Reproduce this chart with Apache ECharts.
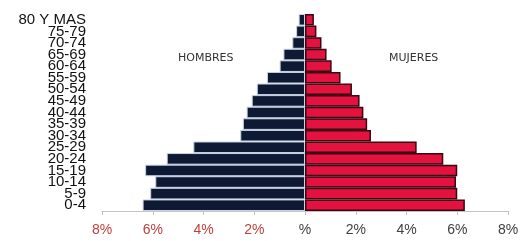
<!DOCTYPE html>
<html>
<head>
<meta charset="utf-8">
<script src="https://cdn.jsdelivr.net/npm/echarts@6/dist/echarts.min.js"></script>
<style>
  html, body { margin: 0; padding: 0; background: #fff; }
  #piramide { width: 525px; height: 241px; }
</style>
</head>
<body>
<div id="piramide"></div>
<script>
// grupos de edad, de abajo hacia arriba
var edades = ['0-4', '5-9', '10-14', '15-19', '20-24', '25-29', '30-34', '35-39', '40-44',
  '45-49', '50-54', '55-59', '60-64', '65-69', '70-74', '75-79', '80 Y MAS'];
// porcentaje de la poblacion
var hombres = [6.4, 6.1, 5.9, 6.3, 5.45, 4.4, 2.55, 2.45, 2.3, 2.1, 1.9, 1.5, 1.0, 0.85, 0.5, 0.35, 0.25];
var mujeres = [6.3, 6.0, 5.95, 6.0, 5.45, 4.4, 2.6, 2.45, 2.3, 2.15, 1.85, 1.4, 1.05, 0.85, 0.65, 0.45, 0.35];
var ticks = [-8, -6, -4, -2, 0, 2, 4, 6, 8];

var chart = echarts.init(document.getElementById('piramide'));
chart.setOption({
  animation: false,
  grid: { left: 102, right: 17, top: 14, bottom: 30, containLabel: false },
  xAxis: {
    type: 'value',
    min: ticks[0],
    max: ticks[ticks.length - 1],
    interval: 2,
    axisLine: { show: true, lineStyle: { color: '#c4c4c4', width: 1 } },
    axisTick: { show: true, length: 4, lineStyle: { color: '#c4c4c4' } },
    splitLine: { show: false },
    axisLabel: {
      margin: 12,
      fontSize: 14,
      fontFamily: 'Liberation Sans, Arial, sans-serif',
      formatter: function (v) { return v === 0 ? '%' : Math.abs(v) + '%'; },
      color: function (v) { return v < 0 ? '#c0403c' : '#404040'; }
    }
  },
  yAxis: {
    type: 'category',
    data: edades,
    axisLine: { show: false },
    axisTick: { show: false },
    axisLabel: {
      margin: 16,
      fontSize: 15,
      lineHeight: 12,
      color: '#111',
      fontFamily: 'Liberation Sans, Arial, sans-serif',
      interval: 0
    }
  },
  series: [
    {
      name: 'HOMBRES',
      type: 'bar',
      stack: 'total',
      barCategoryGap: '0%',
      data: hombres.map(function (v) { return -v; }),
      itemStyle: { color: '#0e1a33', borderColor: '#c9d3e6', borderWidth: 1 }
    },
    {
      name: 'MUJERES',
      type: 'bar',
      stack: 'total',
      barCategoryGap: '0%',
      data: mujeres,
      itemStyle: { color: '#e3123f', borderColor: '#3a0612', borderWidth: 1.5 }
    }
  ],
  graphic: [
    { type: 'text', left: 178, top: 53, style: { text: 'HOMBRES', fontSize: 11, fill: '#333', fontFamily: 'DejaVu Sans, sans-serif' } },
    { type: 'text', left: 389, top: 53, style: { text: 'MUJERES', fontSize: 11, fill: '#333', fontFamily: 'DejaVu Sans, sans-serif' } }
  ]
});
</script>
</body>
</html>
